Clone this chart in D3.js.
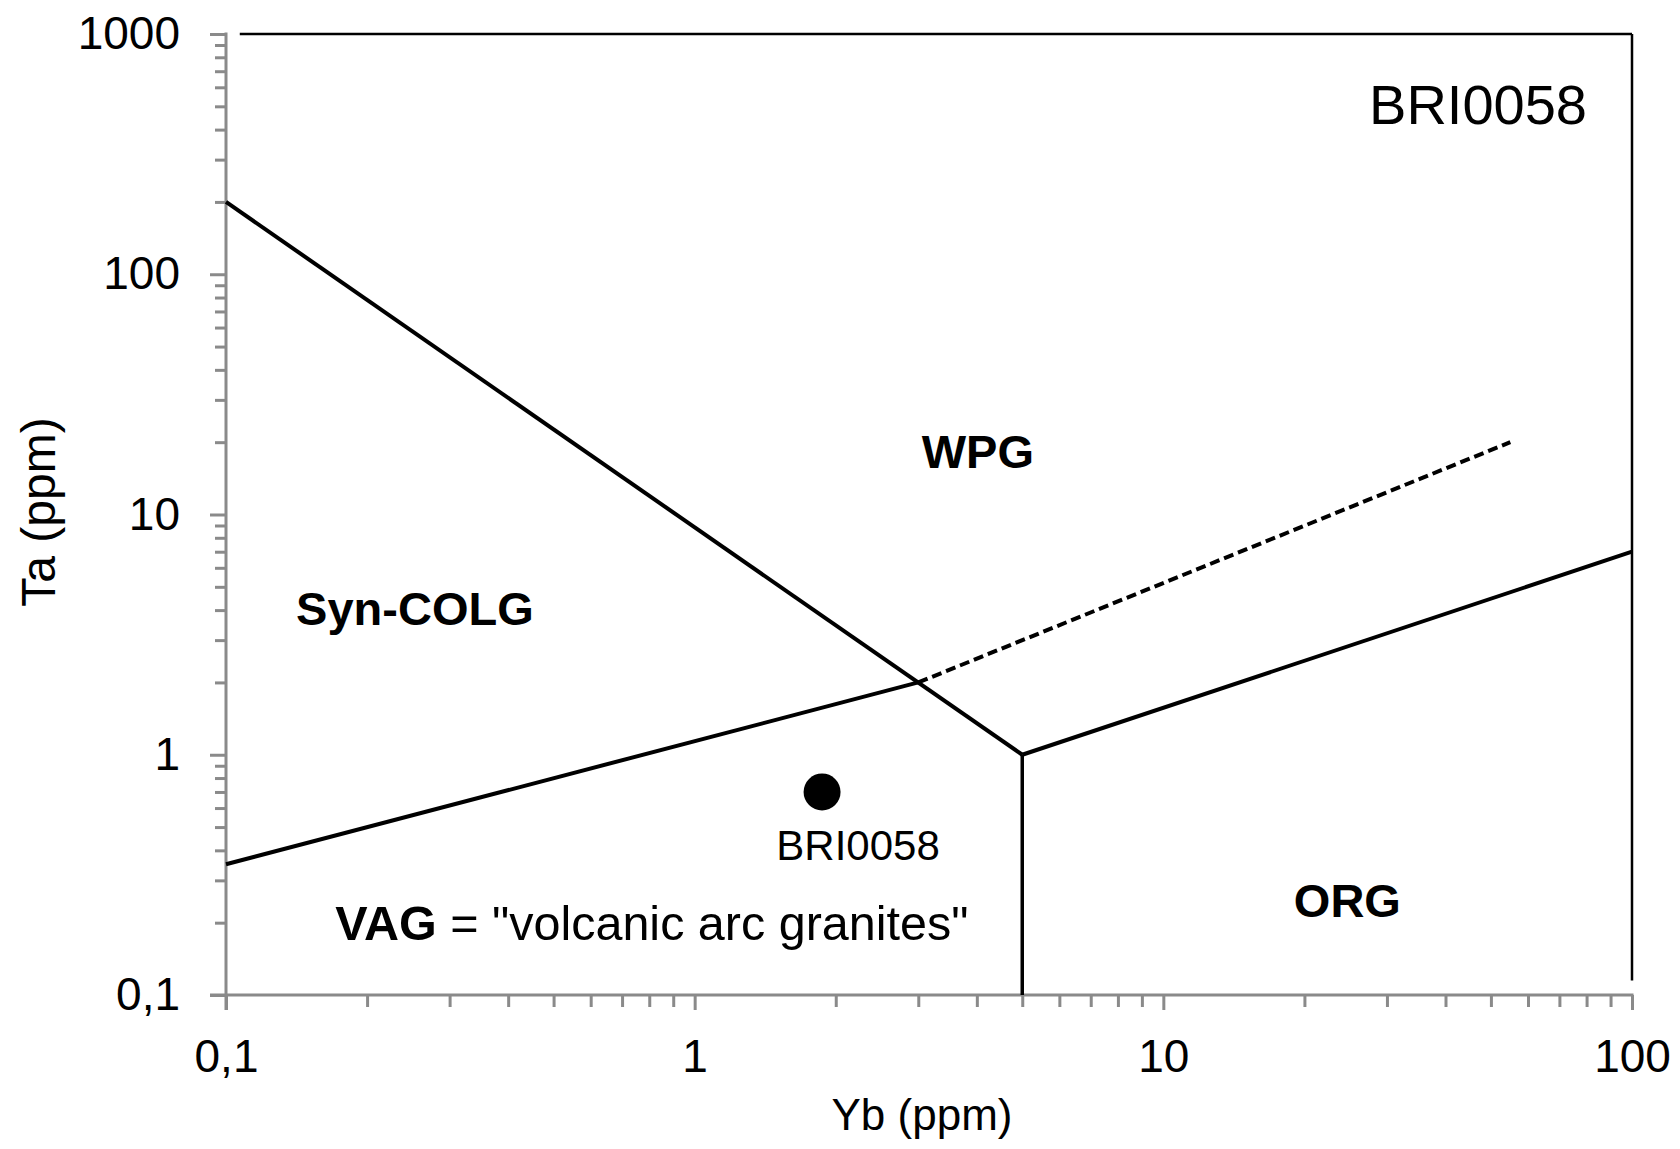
<!DOCTYPE html>
<html>
<head>
<meta charset="utf-8">
<script src="https://cdn.jsdelivr.net/npm/d3@7"></script>
<style>
  html, body { margin: 0; padding: 0; background: #fff; }
  svg { display: block; }
  text { font-family: "Liberation Sans", Arial, sans-serif; fill: #000; }
</style>
</head>
<body>
<svg id="chart" width="1680" height="1149"></svg>
<script>
// ---- data ----
const chartTitle = "BRI0058";
const xTitle = "Yb (ppm)";
const yTitle = "Ta (ppm)";
const xDomain = [0.1, 100];
const yDomain = [0.1, 1000];
const xTickValues = [0.1, 1, 10, 100];
const xTickLabels = ["0,1", "1", "10", "100"];
const yTickValues = [0.1, 1, 10, 100, 1000];
const yTickLabels = ["0,1", "1", "10", "100", "1000"];

// discrimination boundaries (Yb, Ta)
const synColgVagBoundary = [[0.1, 0.35], [3, 2]];
const wpgVagDashed = [[3, 2], [55, 20]];
const synColgWpgBoundary = [[0.1, 200], [5, 1]];
const vagOrgBoundary = [[5, 0.1], [5, 1]];
const wpgOrgBoundary = [[5, 1], [100, 7]];
const frameTop = [[0.107, 1000], [100, 1000]];
const frameRight = [[100, 0.115], [100, 1000]];

// sample
const sampleNames = ["BRI0058"];
const sampleYb = [1.87];
const sampleTa = [0.70];

// field labels (anchor in data units)
const fieldNames = ["WPG", "Syn-COLG", "ORG"];
const fieldYb = [4.02, 0.253, 24.7];
const fieldTa = [15.6, 3.47, 0.211];
const vagLabelBold = "VAG";
const vagLabelRest = " = \"volcanic arc granites\"";
const vagYb = 0.171;
const vagTa = 0.169;

// ---- drawing ----
(function () {
const svg = d3.select("#chart");
const pLeft = 226, pRight = 1632, pTop = 34, pBottom = 995;
const x = d3.scaleLog().domain(xDomain).range([pLeft, pRight]);
const y = d3.scaleLog().domain(yDomain).range([pBottom, pTop]);
const axisGrey = "#8a8a8a";
const FONT = "Liberation Sans, Arial, sans-serif";

function logTicks(domain) {
  const out = [];
  for (let e = Math.round(Math.log10(domain[0])); e < Math.round(Math.log10(domain[1])); e++) {
    for (let m = 2; m <= 9; m++) out.push(m * Math.pow(10, e));
  }
  return out;
}

// X axis
const gx = svg.append("g").attr("transform", `translate(0,${pBottom})`);
gx.append("g").call(d3.axisBottom(x).tickValues(logTicks(xDomain)).tickFormat("").tickSize(12).tickSizeOuter(0));
gx.append("g").call(d3.axisBottom(x).tickValues(xTickValues)
  .tickFormat((d, i) => xTickLabels[i]).tickSize(15).tickSizeOuter(0).tickPadding(29));
gx.selectAll(".domain").remove();
gx.selectAll("line").attr("stroke", axisGrey).attr("stroke-width", 3);
gx.selectAll("text").attr("font-size", 46).attr("font-family", FONT).attr("fill", "#000");
gx.append("line").attr("x1", 210).attr("x2", pRight + 1.5).attr("y1", 0).attr("y2", 0)
  .attr("stroke", axisGrey).attr("stroke-width", 3);

// Y axis
const gy = svg.append("g").attr("transform", `translate(${pLeft},0)`);
gy.append("g").call(d3.axisLeft(y).tickValues(logTicks(yDomain)).tickFormat("").tickSize(11).tickSizeOuter(0));
gy.append("g").call(d3.axisLeft(y).tickValues(yTickValues)
  .tickFormat((d, i) => yTickLabels[i]).tickSize(16).tickSizeOuter(0).tickPadding(30));
gy.selectAll(".domain").remove();
gy.selectAll("line").attr("stroke", axisGrey).attr("stroke-width", 3);
gy.selectAll("text").attr("font-size", 46).attr("font-family", FONT).attr("fill", "#000");
gy.append("line").attr("x1", 0).attr("x2", 0).attr("y1", pTop - 1.5).attr("y2", pBottom + 15)
  .attr("stroke", axisGrey).attr("stroke-width", 3);

// lines
const line = d3.line().x(d => x(d[0])).y(d => y(d[1]));
const solid = [synColgVagBoundary, synColgWpgBoundary, wpgOrgBoundary];
svg.append("g").selectAll("path").data(solid).join("path")
  .attr("d", line).attr("fill", "none").attr("stroke", "#000").attr("stroke-width", 4);
svg.append("path").datum(vagOrgBoundary).attr("d", line).attr("fill", "none")
  .attr("stroke", "#000").attr("stroke-width", 3.5);
svg.append("path").datum(wpgVagDashed).attr("d", line).attr("fill", "none")
  .attr("stroke", "#000").attr("stroke-width", 4).attr("stroke-dasharray", "10,5");
svg.append("g").selectAll("path").data([frameTop, frameRight]).join("path")
  .attr("d", line).attr("fill", "none").attr("stroke", "#000").attr("stroke-width", 2.5);

// sample point
svg.append("g").selectAll("circle").data(sampleNames).join("circle")
  .attr("cx", (d, i) => x(sampleYb[i])).attr("cy", (d, i) => y(sampleTa[i]))
  .attr("r", 18.5).attr("fill", "#000");
svg.append("g").selectAll("text").data(sampleNames).join("text")
  .attr("x", (d, i) => x(sampleYb[i]) + 36).attr("y", (d, i) => y(sampleTa[i]) + 68)
  .attr("text-anchor", "middle").attr("font-size", 42).text(d => d);

// field labels
svg.append("g").selectAll("text").data(fieldNames).join("text")
  .attr("x", (d, i) => x(fieldYb[i])).attr("y", (d, i) => y(fieldTa[i]))
  .attr("text-anchor", "middle").attr("font-size", 47).attr("font-weight", "bold").text(d => d);
const vag = svg.append("text").attr("x", x(vagYb)).attr("y", y(vagTa)).attr("font-size", 48.5);
vag.append("tspan").attr("font-weight", "bold").text(vagLabelBold);
vag.append("tspan").text(vagLabelRest);

// title
svg.append("text").attr("x", 1587).attr("y", 124).attr("text-anchor", "end")
  .attr("font-size", 56).text(chartTitle);

// axis titles
svg.append("text").attr("x", 922).attr("y", 1130).attr("text-anchor", "middle")
  .attr("font-size", 44).text(xTitle);
svg.append("text").attr("transform", "translate(55,512) rotate(-90)").attr("text-anchor", "middle")
  .attr("font-size", 48).text(yTitle);
})();
</script>
</body>
</html>
